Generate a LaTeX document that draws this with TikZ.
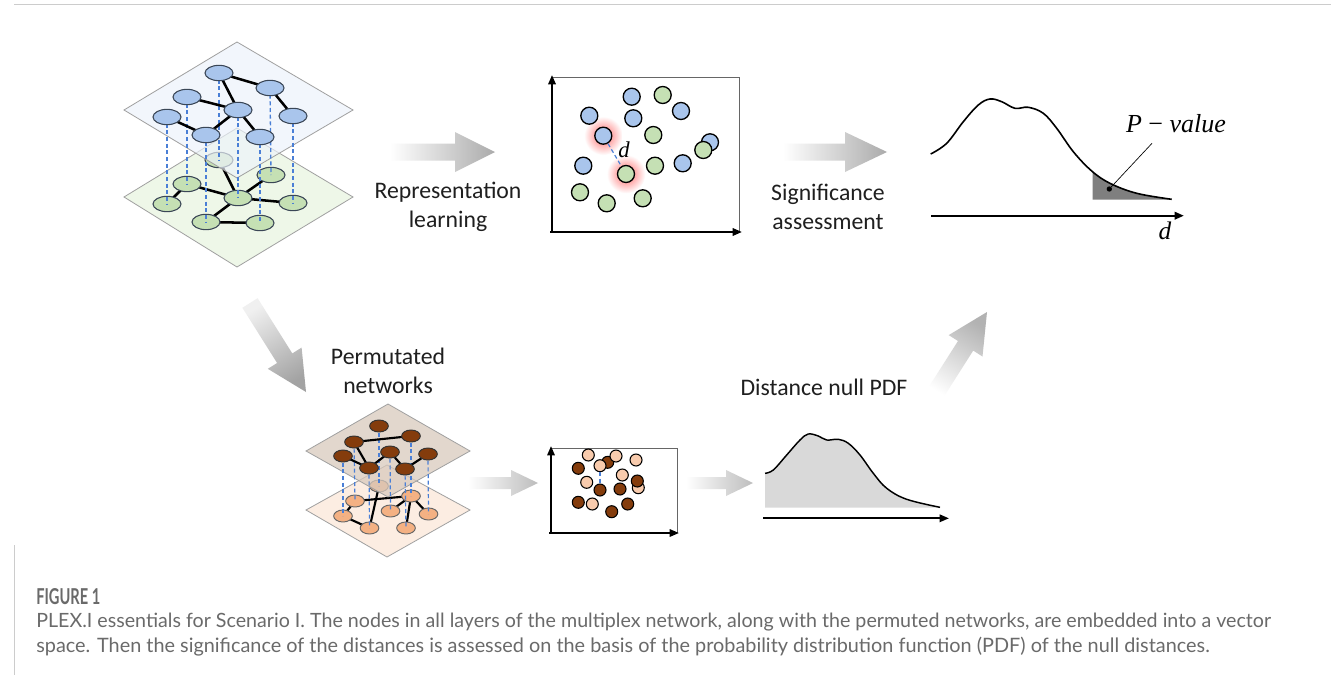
\documentclass[tikz,border=0pt]{standalone}
\usepackage{fontspec}
\setmainfont{Carlito}
\newfontfamily\capfont{Lato}
\newfontfamily\serifm{Liberation Serif}
\usetikzlibrary{arrows.meta,shapes.geometric}
\definecolor{upblue}{HTML}{EDF3FB}
\definecolor{lowgreen}{HTML}{EEF7E8}
\definecolor{nblue}{HTML}{A9C5EC}
\definecolor{ngreen}{HTML}{C5E0B4}
\definecolor{nedge}{HTML}{3A4656}
\definecolor{planeedge}{HTML}{A0A0A0}
\definecolor{dashblue}{HTML}{4A7FD6}
\definecolor{upbrown}{HTML}{D9CABD}
\definecolor{lowpeach}{HTML}{FCEDE2}
\definecolor{nbrown}{HTML}{843C0C}
\definecolor{norange}{HTML}{F4B183}
\definecolor{slight}{HTML}{F8CBAD}
\definecolor{capgray}{HTML}{6A6A6A}
\definecolor{framegray}{HTML}{CCCCCC}
\definecolor{tailgray}{HTML}{7F7F7F}
\definecolor{nullgray}{HTML}{D9D9D9}
\begin{document}
\begin{tikzpicture}[x=0.75pt,y=-0.75pt,
  unode/.style={ellipse,draw=nedge,line width=0.8pt,fill=nblue,minimum width=21pt,minimum height=11.5pt,inner sep=0pt},
  gnode/.style={unode,fill=ngreen},
  bnode/.style={ellipse,draw=black!80,line width=0.7pt,fill=nbrown,minimum width=14pt,minimum height=9pt,inner sep=0pt},
  onode/.style={bnode,fill=norange,draw=black!60},
  edge/.style={line width=1.9pt,black},
  sedge/.style={line width=1.6pt,black},
  vdash/.style={dashblue,line width=1pt,dash pattern=on 3pt off 2pt},
  plane/.style={draw=planeedge,line width=0.6pt},
  lbl/.style={font=\fontsize{17.8}{22}\selectfont,align=center,text=black!88},
  bdot/.style={circle,draw=black,line width=1pt,fill=nblue,minimum size=12.75pt,inner sep=0pt},
  gdot/.style={bdot,fill=ngreen},
  ddot/.style={circle,draw=black,line width=0.8pt,fill=nbrown,minimum size=9pt,inner sep=0pt},
  ldot/.style={ddot,fill=slight},
  axis/.style={line width=1.6pt,black,-{Triangle[length=7pt,width=5.5pt]}},
  boxline/.style={line width=0.6pt,black!60}
]
\useasboundingbox (0,0) rectangle (1331,675);
\fill[white] (0,0) rectangle (1331,675);
% frame
\draw[framegray,line width=0.6pt] (14,4) -- (1331,4);
\draw[framegray,line width=0.6pt] (14,545) -- (14,675);

% ================= top-left multiplex network =================
\fill[lowgreen,plane] (237,128) -- (353,197) -- (237,267) -- (124,197) -- cycle;
\coordinate (a) at (219,160);
\coordinate (b) at (271,175);
\coordinate (c) at (187,184);
\coordinate (d) at (238,198);
\coordinate (e) at (293,203);
\coordinate (f) at (167,204);
\coordinate (g) at (206,222);
\coordinate (h) at (260,223);
\draw[edge] (a) -- (d);
\draw[edge] (b) -- (d);
\draw[edge] (c) -- (d);
\draw[edge] (c) -- (f);
\draw[edge] (d) -- (e);
\draw[edge] (d) -- (g);
\draw[edge] (g) -- (h);
\foreach \p in {a,b,c,d,e,f,g,h} \node[gnode] (n\p) at (\p) {};
\fill[upblue,plane,fill opacity=0.68] (237,42) -- (353,110) -- (237,178) -- (124,110) -- cycle;
\coordinate (A) at (219,73);
\coordinate (B) at (270,88);
\coordinate (C) at (187,97);
\coordinate (D) at (238,110);
\coordinate (E) at (293,116);
\coordinate (F) at (167,117);
\coordinate (G) at (206,135);
\coordinate (H) at (260,137);
\draw[vdash] (A) -- (a);
\draw[vdash] (B) -- (b);
\draw[vdash] (C) -- (c);
\draw[vdash] (D) -- (d);
\draw[vdash] (E) -- (e);
\draw[vdash] (F) -- (f);
\draw[vdash] (G) -- (g);
\draw[vdash] (H) -- (h);
\draw[edge] (A) -- (B);
\draw[edge] (A) -- (D);
\draw[edge] (C) -- (D);
\draw[edge] (D) -- (G);
\draw[edge] (F) -- (G);
\draw[edge] (D) -- (H);
\draw[edge] (B) -- (E);
\foreach \p in {A,B,C,D,E,F,G,H} \node[unode] (n\p) at (\p) {};

% ================= big gradient arrows =================
\shade[left color=white,right color=black!33]
  (390,143.5) -- (455,143.5) -- (455,132) -- (495,152) -- (455,172) -- (455,160.5) -- (390,160.5) -- cycle;
\shade[left color=white,right color=black!33]
  (783,143.5) -- (845,143.5) -- (845,132) -- (887,152) -- (845,172) -- (845,160.5) -- (783,160.5) -- cycle;
\shade[top color=black!6,bottom color=black!36,shading angle=32]
  (242.4,307.8) -- (277.1,363.0) -- (267.8,368.8) -- (306,392) -- (301.6,347.6) -- (292.3,353.4) -- (257.6,298.2) -- cycle;
\shade[bottom color=white,top color=black!30,shading angle=-32]
  (940.6,401.8) -- (973.2,350.6) -- (982.5,356.5) -- (987,312) -- (948.7,335.1) -- (958.0,341.0) -- (925.4,392.2) -- cycle;
\shade[left color=white,right color=black!26]
  (468,477) -- (511,477) -- (511,470) -- (538,483) -- (511,496) -- (511,489) -- (468,489) -- cycle;
\shade[left color=white,right color=black!26]
  (686,477) -- (726,477) -- (726,470) -- (753,483) -- (726,496) -- (726,489) -- (686,489) -- cycle;

% labels
\node[lbl] (rep) at (448,207) {Representation\\learning};
\node[lbl] (sig) at (828,207) {Significance\\assessment};
\node[lbl] (perm) at (388,371) {Permutated\\networks};
\node[lbl] (dist) at (824,387) {Distance null PDF};

% ================= top scatter =================
\draw[boxline] (552,77) -- (739,77) -- (739,232);
\shade[inner color=red!60,outer color=white] (603.3,135.7) circle (14.5pt);
\shade[inner color=red!60,outer color=white] (626,174) circle (14.5pt);
\node[bdot] (s1) at (631.7,96.7) {};
\node[bdot] (s2) at (589.3,115.7) {};
\node[bdot] (s3) at (633.3,118.3) {};
\node[bdot] (s4) at (681,111) {};
\node[bdot] (s5) at (710,142.3) {};
\node[bdot] (s6) at (583.3,165.7) {};
\node[bdot] (s7) at (682.7,163.3) {};
\node[gdot] (s8) at (662.7,95) {};
\node[gdot] (s9) at (653.3,135) {};
\node[gdot] (s10) at (703.3,150) {};
\node[gdot] (s11) at (655,165.7) {};
\node[gdot] (s12) at (580,192.3) {};
\node[gdot] (s13) at (606.7,203.3) {};
\node[gdot] (s14) at (642.7,198.3) {};
\node[bdot] (sA) at (603.3,135.7) {};
\node[gdot] (sB) at (626,174) {};
\draw[vdash,line width=0.9pt] (sA) -- (sB);
\node[font=\fontsize{17}{17}\selectfont\serifm\itshape] (dlab) at (624,150) {d};
\draw[axis] (552,232) -- (552,75);
\draw[axis] (550,232) -- (742,232);

% ================= right distribution =================
\begin{scope}
\clip (1092.5,90) rectangle (1185,199.6);
\fill[tailgray] plot[smooth,tension=0.6] coordinates {(930.7,154) (946.7,143.3) (963.3,121.7) (978.3,105) (990,99) (1001.7,101.7) (1015,108.3) (1028.3,107.3) (1043.3,113.3) (1056.7,128.3) (1073.3,151.7) (1091.7,171) (1110,183.3) (1136.7,193.3) (1171.7,199.3)} -- (1171.7,199.6) -- (930.7,199.6) -- cycle;
\end{scope}
\draw[line width=1.2pt] plot[smooth,tension=0.6] coordinates {(930.7,154) (946.7,143.3) (963.3,121.7) (978.3,105) (990,99) (1001.7,101.7) (1015,108.3) (1028.3,107.3) (1043.3,113.3) (1056.7,128.3) (1073.3,151.7) (1091.7,171) (1110,183.3) (1136.7,193.3) (1171.7,199.3)};
\draw[axis,line width=1.8pt] (931,215.7) -- (1184,215.7);
\node[circle,fill=black,inner sep=0pt,minimum size=4pt] (pdot) at (1109.3,189) {};
\coordinate (pend) at (1152,143.3);
\draw[line width=0.5pt] (pdot) -- (pend);
\node[font=\fontsize{19.5}{19.5}\selectfont\serifm] (pval) at (1176,124) {\textit{P} − \textit{value}};
\node[font=\fontsize{19}{19}\selectfont\serifm\itshape] (dax) at (1165,231) {d};

% ================= bottom permuted network =================
\fill[lowpeach,plane] (387,465) -- (470,510) -- (387,557) -- (306,510) -- cycle;
\coordinate (l1) at (379,486);
\coordinate (l2) at (411,496);
\coordinate (l3) at (355,501);
\coordinate (l4) at (390.5,511);
\coordinate (l5) at (428.5,514);
\coordinate (l6) at (343,516);
\coordinate (l7) at (369.5,528);
\coordinate (l8) at (406,528);
\draw[sedge] (l1) -- (l7);
\draw[sedge] (l3) -- (l2);
\draw[sedge] (l2) -- (l4);
\draw[sedge] (l2) -- (l5);
\draw[sedge] (l2) -- (l8);
\draw[sedge] (l3) -- (l6);
\draw[sedge] (l6) -- (l7);
\foreach \p in {l1,l2,l3,l4,l5,l6,l7,l8} \node[onode] (n\p) at (\p) {};
\fill[upbrown,plane,fill opacity=0.75] (388,404) -- (470,451) -- (388,497) -- (306,451) -- cycle;
\coordinate (u1) at (379,426);
\coordinate (u2) at (411,436);
\coordinate (u3) at (354,442);
\coordinate (u4) at (390,452);
\coordinate (u5) at (343,456);
\coordinate (u6) at (428,454);
\coordinate (u7) at (369,468);
\coordinate (u8) at (405,469);
\draw[vdash,line width=0.9pt] (u1) -- (l1);
\draw[vdash,line width=0.9pt] (u2) -- (l2);
\draw[vdash,line width=0.9pt] (u3) -- (l3);
\draw[vdash,line width=0.9pt] (u4) -- (l4);
\draw[vdash,line width=0.9pt] (u5) -- (l6);
\draw[vdash,line width=0.9pt] (u6) -- (l5);
\draw[vdash,line width=0.9pt] (u7) -- (l7);
\draw[vdash,line width=0.9pt] (u8) -- (l8);
\draw[sedge] (u3) -- (u2);
\draw[sedge] (u3) -- (u7);
\draw[sedge] (u5) -- (u7);
\draw[sedge] (u4) -- (u7);
\draw[sedge] (u4) -- (u8);
\draw[sedge] (u8) -- (u6);
\foreach \p in {u1,u2,u3,u4,u5,u6,u7,u8} \node[bnode] (n\p) at (\p) {};

% ================= bottom scatter =================
\draw[boxline] (551,448) -- (677,448) -- (677,533);
\node[ldot] (q1) at (638.3,487.7) {};
\node[ddot] (p1) at (578.3,468.3) {};
\node[ddot] (p2) at (607.7,462.3) {};
\node[ddot] (p3) at (600,490) {};
\node[ddot] (p4) at (620,489) {};
\node[ddot] (p5) at (637.3,481) {};
\node[ddot] (p6) at (578.3,502.3) {};
\node[ddot] (p7) at (627.7,504) {};
\node[ddot] (p8) at (611.7,511.7) {};
\node[ldot] (q2) at (588.3,455) {};
\node[ldot] (q3) at (616,456) {};
\node[ldot] (q4) at (636,460) {};
\node[ldot] (q5) at (600,465.7) {};
\node[ldot] (q6) at (586.7,482.3) {};
\node[ldot] (q7) at (622.3,475) {};
\node[ldot] (q8) at (592.3,504) {};
\draw[vdash,line width=0.8pt] (q5) -- (p3);
\draw[axis,line width=1.5pt] (551,533) -- (551,446);
\draw[axis,line width=1.5pt] (549,533) -- (679,533);

% ================= bottom null distribution =================
\fill[nullgray] plot[smooth,tension=0.6] coordinates {(765,473.3) (773.3,470) (786.7,455) (800,440) (808.3,434) (818.3,436) (826.7,440) (838.3,439.3) (848.3,443.3) (860,455) (873.3,473.3) (886.7,488.3) (906.7,499.3) (940,507.3)} -- (940,507.6) -- (765,507.6) -- cycle;
\draw[line width=1.1pt] plot[smooth,tension=0.6] coordinates {(765,473.3) (773.3,470) (786.7,455) (800,440) (808.3,434) (818.3,436) (826.7,440) (838.3,439.3) (848.3,443.3) (860,455) (873.3,473.3) (886.7,488.3) (906.7,499.3) (940,507.3)};
\draw[axis,line width=1.5pt] (763,518.3) -- (949,518.3);

% ================= caption =================
\node[anchor=base west,inner sep=0pt,text=capgray] (figlbl) at (36,604) {\resizebox{48pt}{12pt}{\capfont\bfseries FIGURE 1}};
\node[anchor=base west,inner sep=0pt,text=capgray] (cap1) at (36,627) {\resizebox{926pt}{!}{\capfont PLEX.I essentials for Scenario I. The nodes in all layers of the multiplex network, along with the permuted networks, are embedded into a vector}};
\node[anchor=base west,inner sep=0pt,text=capgray] (cap2) at (36,652) {\resizebox{880pt}{!}{\capfont space. Then the significance of the distances is assessed on the basis of the probability distribution function (PDF) of the null distances.}};
\end{tikzpicture}
\end{document}
